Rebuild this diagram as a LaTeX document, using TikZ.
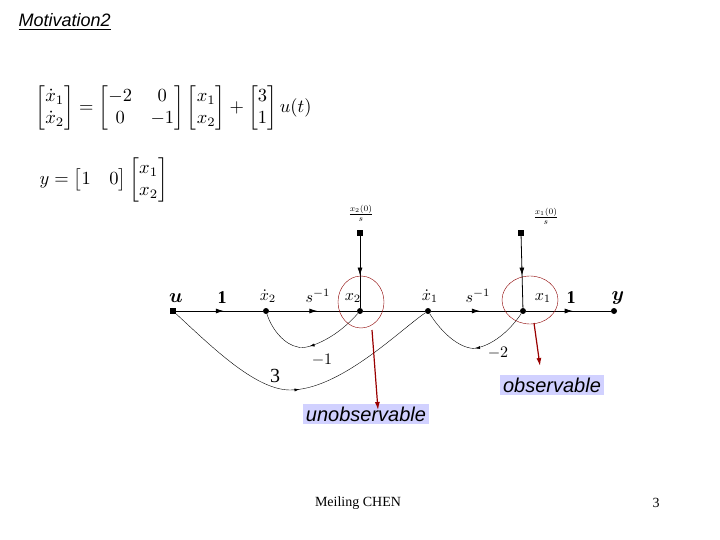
\documentclass[tikz,border=0pt]{standalone}
\usepackage{amsmath}
\usepackage{graphicx}
\usepackage{fontspec}
\setmainfont{Liberation Serif}
\newfontfamily\lsans{Liberation Sans}
\usetikzlibrary{arrows.meta,decorations.markings}
\newcommand{\fs}[1]{\fontsize{#1}{#1}\selectfont}
\newcommand{\sm}[2]{\scalebox{#1}{$#2$}}
\begin{document}
\begin{tikzpicture}[x=1pt,y=-1pt,
  pt/.style={circle,fill=black,inner sep=0pt,minimum size=6pt},
  sq/.style={rectangle,fill=black,inner sep=0pt,minimum size=6pt},
  br/.style={thick,postaction={decorate},decoration={markings,mark=at position #1 with {\arrow{Latex[length=8pt,width=5pt]}}}},
  fb/.style={thin,postaction={decorate},decoration={markings,mark=at position 0.5 with {\arrow{Latex[length=5pt,width=3pt]}}}},
  lab/.style={fill=blue!18,font=\lsans\itshape\fs{20},inner sep=3pt},
  red/.style={draw=red!60!black,very thick,-{Latex[length=8pt,width=5pt]}},
  m/.style={inner sep=1pt}]
\useasboundingbox (0,0) rectangle (720,540);
\node[anchor=west,font=\lsans\itshape\fs{18}] (t) at (15,22) {\underline{Motivation2}};
\node[anchor=west] (eq1) at (32,108) {\sm{1.85}{\begin{bmatrix}\dot x_1\\ \dot x_2\end{bmatrix}=\begin{bmatrix}-2&0\\0&-1\end{bmatrix}\begin{bmatrix}x_1\\x_2\end{bmatrix}+\begin{bmatrix}3\\1\end{bmatrix}u(t)}};
\node[anchor=west] (eq2) at (36,180) {\sm{1.85}{y=\begin{bmatrix}1&0\end{bmatrix}\begin{bmatrix}x_1\\x_2\end{bmatrix}}};
\node[sq] (u) at (173,311) {};
\node[pt] (x2d) at (266,311) {};
\node[pt] (x2) at (360,311) {};
\node[pt] (x1d) at (428,311) {};
\node[pt] (x1) at (523,311) {};
\node[pt] (y) at (614,311) {};
\node[sq] (i2) at (360,233) {};
\node[sq] (i1) at (521,233) {};
\draw[br=0.55] (u) -- (x2d);
\draw[br=0.55] (x2d) -- (x2);
\draw[thick] (x2) -- (x1d);
\draw[br=0.55] (x1d) -- (x1);
\draw[br=0.55] (x1) -- (y);
\draw[br=0.55] (i2) -- (x2);
\draw[br=0.55] (i1) -- (x1);
\draw[fb] (x2) .. controls (330,345) and (300,350) .. (298,347) .. controls (285,345) and (272,330) .. (x2d);
\draw[fb] (x1) .. controls (500,345) and (475,350) .. (470,348) .. controls (455,345) and (440,330) .. (x1d);
\draw[fb] (u) .. controls (210,345) and (255,390) .. (290,390) .. controls (340,390) and (400,330) .. (x1d);
\node[font=\bfseries\fs{18}] (l1) at (222,298) {1};
\node[m] (l2) at (268,296) {\sm{1.6}{\dot x_2}};
\node[m] (l3) at (318,296) {\sm{1.6}{s^{-1}}};
\node[m] (l4) at (353,298) {\sm{1.6}{x_2}};
\node[m] (l5) at (430,296) {\sm{1.6}{\dot x_1}};
\node[m] (l6) at (478,296) {\sm{1.6}{s^{-1}}};
\node[m] (l7) at (543,298) {\sm{1.6}{x_1}};
\node[font=\bfseries\fs{18}] (l8) at (571,298) {1};
\node[m] (lu) at (176,298) {\sm{2}{\boldsymbol{u}}};
\node[m] (ly) at (618,298) {\sm{2}{\boldsymbol{y}}};
\node[m] (l9) at (322,360) {\sm{1.6}{-1}};
\node[m] (l10) at (498,353) {\sm{1.6}{-2}};
\node[font=\fs{20}] (l11) at (275,376) {3};
\node[m] (ic2) at (361,213) {\sm{1.2}{\frac{x_2(0)}{s}}};
\node[m] (ic1) at (546,216) {\sm{1.2}{\frac{x_1(0)}{s}}};
\draw[draw=red!55!black] (361,302) ellipse (23 and 26);
\draw[draw=red!55!black] (530,300) ellipse (28 and 24);
\node[lab] (ob) at (552,385) {observable};
\node[lab] (un) at (366,414) {unobservable};
\coordinate (c2) at (372,330);
\coordinate (c1) at (534,323);
\draw[red] (c2) -- (378,410);
\draw[red] (c1) -- (540,366);
\node[font=\fs{14}] (f1) at (358,503) {Meiling CHEN};
\node[font=\fs{14}] (f2) at (656,503) {3};
\end{tikzpicture}
\end{document}
